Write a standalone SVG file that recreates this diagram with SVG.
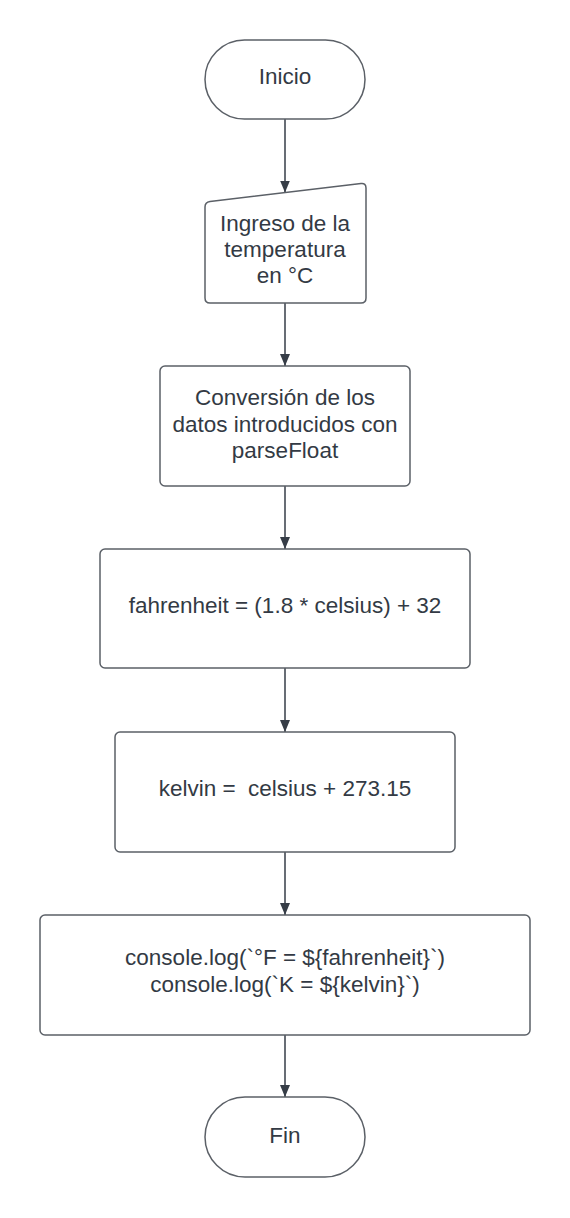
<svg xmlns="http://www.w3.org/2000/svg" width="570" height="1218" viewBox="0 0 570 1218">
<style>
.shape{fill:#ffffff;stroke:#5b6067;stroke-width:1.5}
.conn{stroke:#363d47;stroke-width:1.5;fill:none}
text{font-family:"Liberation Sans",Arial,sans-serif;font-size:22.5px;fill:#333a44;text-anchor:middle;white-space:pre}
</style>
<defs>
<marker id="arr" viewBox="0 0 12 10" refX="12" refY="5" markerWidth="12" markerHeight="10" markerUnits="userSpaceOnUse" orient="auto">
<path d="M0,0 L12,5 L0,10 Z" fill="#363d47"/>
</marker>
</defs>
<rect width="570" height="1218" fill="#ffffff"/>
<g id="connectors">
<line class="conn" x1="285" y1="119" x2="285" y2="192.5" marker-end="url(#arr)" />
<line class="conn" x1="285" y1="303" x2="285" y2="366" marker-end="url(#arr)" />
<line class="conn" x1="285" y1="486" x2="285" y2="549" marker-end="url(#arr)" />
<line class="conn" x1="285" y1="668" x2="285" y2="732" marker-end="url(#arr)" />
<line class="conn" x1="285" y1="852" x2="285" y2="915" marker-end="url(#arr)" />
<line class="conn" x1="285" y1="1035" x2="285" y2="1097" marker-end="url(#arr)" />
</g>
<g id="inicio">
<rect class="shape" x="205" y="40" width="160" height="79" rx="39.5" ry="39.5"/>
<text x="285" y="84">Inicio</text>
</g>
<g id="ingreso">
<path class="shape" d="M205,207 Q205,202 210,201.4 L361,183.6 Q366,183 366,188 L366,298 Q366,303 361,303 L210,303 Q205,303 205,298 Z"/>
<text x="285" y="231">Ingreso de la</text>
<text x="285" y="257">temperatura</text>
<text x="285" y="283">en °C</text>
</g>
<g id="conversion">
<rect class="shape" x="160" y="366" width="250" height="120" rx="5"/>
<text x="285" y="405">Conversión de los</text>
<text x="285" y="432">datos introducidos con</text>
<text x="285" y="458">parseFloat</text>
</g>
<g id="fahrenheit">
<rect class="shape" x="100" y="549" width="370" height="119" rx="5"/>
<text x="285" y="613">fahrenheit = (1.8 * celsius) + 32</text>
</g>
<g id="kelvin">
<rect class="shape" x="115" y="732" width="340" height="120" rx="5"/>
<text x="285" y="796">kelvin =  celsius + 273.15</text>
</g>
<g id="console">
<rect class="shape" x="40" y="915" width="490" height="120" rx="5"/>
<text x="285" y="965">console.log(`°F = ${fahrenheit}`)</text>
<text x="285" y="992">console.log(`K = ${kelvin}`)</text>
</g>
<g id="fin">
<rect class="shape" x="205" y="1097" width="160" height="80" rx="40" ry="40"/>
<text x="285" y="1143">Fin</text>
</g>
</svg>
